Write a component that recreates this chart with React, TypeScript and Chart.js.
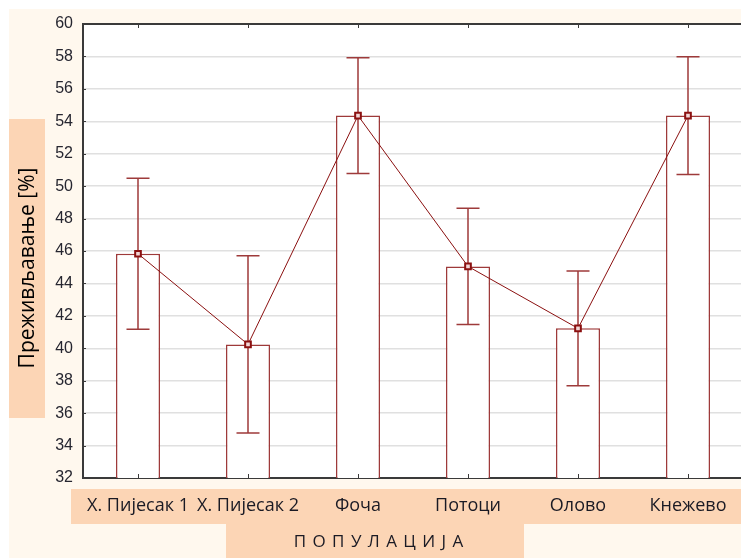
import React, { useEffect, useRef } from "react";
import { Chart, registerables } from "chart.js";

Chart.register(...registerables);

const categories = ["Х. Пијесак 1", "Х. Пијесак 2", "Фоча", "Потоци", "Олово", "Кнежево"];
const means = [45.83, 40.24, 54.35, 45.05, 41.23, 54.35];
const errors = [4.66, 5.46, 3.57, 3.58, 3.54, 3.63];
const yTitle = "Преживљавање [%]";
const xTitle = "П О П У Л А Ц И Ј А";
const yMin = 32;
const yMax = 60;
const yStep = 2;

const RED = "#9e3a3a";
const DARK = "#8b1010";
const PEACH = "#fcd5b5";

const decorPlugin = {
  id: "decor",
  beforeDraw(chart: any) {
    const { ctx, chartArea } = chart;
    ctx.save();
    ctx.fillStyle = "#ffffff";
    ctx.fillRect(chartArea.left, chartArea.top, chartArea.right - chartArea.left, chartArea.bottom - chartArea.top);
    ctx.fillStyle = PEACH;
    ctx.fillRect(9, 119, 36, 299);
    ctx.fillRect(71, 489, 700, 35);
    ctx.fillRect(226, 524, 298, 34);
    ctx.fillStyle = "#000000";
    ctx.font = "21px 'Open Sans'";
    ctx.textAlign = "center";
    ctx.textBaseline = "middle";
    ctx.translate(28, 268);
    ctx.rotate(-Math.PI / 2);
    ctx.fillText(yTitle, 0, 0);
    ctx.restore();
    ctx.save();
    ctx.fillStyle = "#1a1a24";
    ctx.font = "17px 'Open Sans'";
    ctx.textAlign = "center";
    ctx.textBaseline = "middle";
    (ctx as any).letterSpacing = "1px";
    ctx.fillText(xTitle, 379, 542);
    ctx.restore();
  },
  afterDatasetDraw(chart: any, args: any) {
    if (args.index !== 1) return;
    const { ctx } = chart;
    const x = chart.scales.x;
    const y = chart.scales.y;
    ctx.save();
    ctx.strokeStyle = RED;
    ctx.lineWidth = 1.5;
    means.forEach((m, i) => {
      const px = x.getPixelForValue(i);
      const top = y.getPixelForValue(m + errors[i]);
      const bot = y.getPixelForValue(m - errors[i]);
      ctx.beginPath();
      ctx.moveTo(px, top);
      ctx.lineTo(px, bot);
      ctx.moveTo(px - 11.5, top);
      ctx.lineTo(px + 11.5, top);
      ctx.moveTo(px - 11.5, bot);
      ctx.lineTo(px + 11.5, bot);
      ctx.stroke();
    });
    ctx.restore();
  },
  afterDraw(chart: any) {
    const { ctx, chartArea } = chart;
    const x = chart.scales.x;
    const y = chart.scales.y;
    ctx.save();
    ctx.strokeStyle = "#3a3a3a";
    ctx.lineWidth = 2;
    ctx.beginPath();
    ctx.moveTo(chartArea.left - 1, chartArea.top);
    ctx.lineTo(chartArea.right, chartArea.top);
    ctx.stroke();
    ctx.lineWidth = 1;
    ctx.beginPath();
    categories.forEach((_, i) => {
      const px = Math.round(x.getPixelForValue(i)) + 0.5;
      ctx.moveTo(px, chartArea.top);
      ctx.lineTo(px, chartArea.top + 4);
      ctx.moveTo(px, chartArea.bottom);
      ctx.lineTo(px, chartArea.bottom - 4);
    });
    for (let v = yMin; v <= yMax; v += yStep) {
      const py = Math.round(y.getPixelForValue(v)) + 0.5;
      ctx.moveTo(chartArea.left, py);
      ctx.lineTo(chartArea.left + 3, py);
    }
    ctx.stroke();
    ctx.restore();
  },
};

export default function App() {
  const ref = useRef<HTMLCanvasElement>(null);
  useEffect(() => {
    if (!ref.current) return;
    const chart = new Chart(ref.current, {
      data: {
        labels: categories,
        datasets: [
          {
            type: "line",
            data: means,
            borderColor: DARK,
            borderWidth: 1,
            pointStyle: "rect",
            pointRadius: 4,
            pointBorderWidth: 2,
            pointBorderColor: DARK,
            pointBackgroundColor: "#f2d6d6",
            order: 0,
          },
          {
            type: "bar",
            data: means,
            backgroundColor: "#ffffff",
            borderColor: RED,
            borderWidth: 1.5,
            barPercentage: 0.4,
            categoryPercentage: 1,
            order: 1,
          },
        ],
      } as any,
      options: {
        responsive: false,
        animation: false,
        devicePixelRatio: 1,
        layout: { padding: { left: 0, top: 24, right: 17, bottom: 0 } },
        plugins: { legend: { display: false }, tooltip: { enabled: false } },
        scales: {
          x: {
            type: "category",
            offset: true,
            grid: { display: false, drawTicks: false },
            border: { display: true, color: "#3a3a3a", width: 2 },
            ticks: {
              font: { family: "'Open Sans'", size: 18 },
              color: "#1a1a24",
              padding: 17,
              maxRotation: 0,
              autoSkip: false,
            },
            afterFit: (s: any) => {
              s.height = 80;
            },
          },
          y: {
            min: yMin,
            max: yMax,
            grid: { color: "#e0e0e0", lineWidth: 1.5, drawTicks: false },
            border: { display: true, color: "#3a3a3a", width: 2 },
            ticks: {
              stepSize: yStep,
              font: { family: "'Liberation Sans', Arial", size: 16 },
              color: "#262630",
              padding: 10,
            },
            afterFit: (s: any) => {
              s.width = 83;
            },
          },
        },
      } as any,
      plugins: [decorPlugin],
    });
    return () => chart.destroy();
  }, []);
  return (
    <div style={{ position: "fixed", left: 0, top: 0, width: 741, height: 558, overflow: "hidden", background: "#ffffff" }}>
      <div style={{ position: "absolute", left: 9, top: 9, right: 0, bottom: 0, background: "#fff8ee" }} />
      <canvas ref={ref} width={760} height={558} style={{ position: "absolute", left: 0, top: 0, display: "block" }} />
    </div>
  );
}
